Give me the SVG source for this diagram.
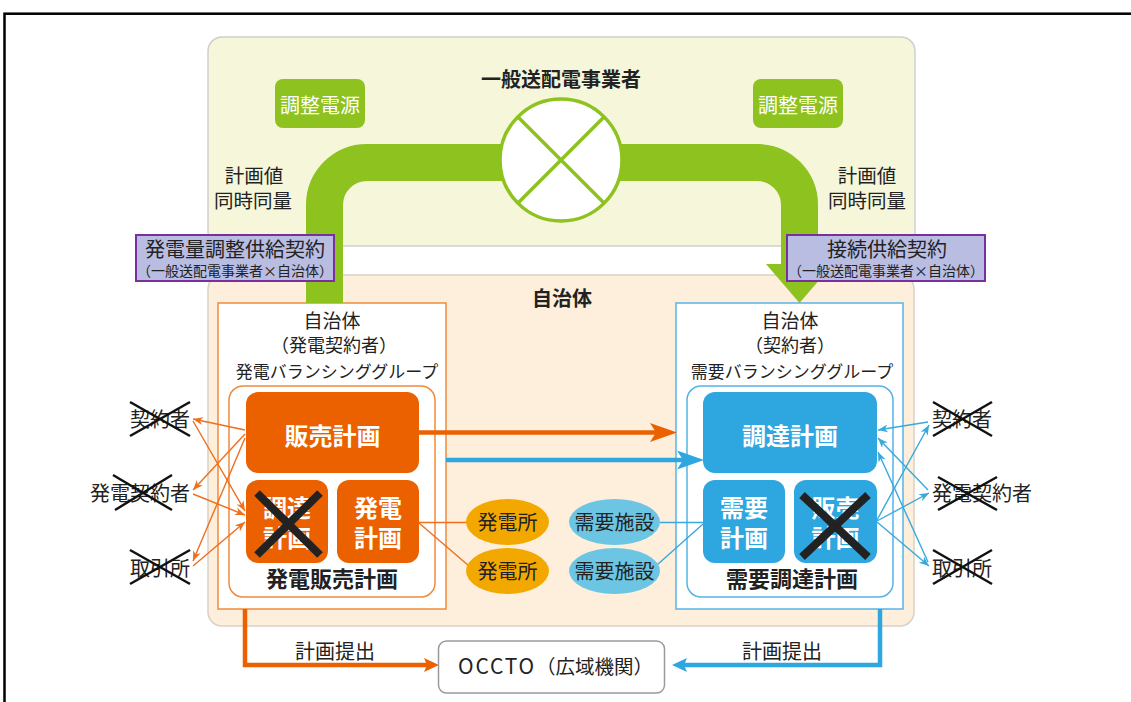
<svg xmlns="http://www.w3.org/2000/svg" width="1131" height="702" viewBox="0 0 1131 702">
<style>
text{font-family:"Noto Sans CJK JP","Noto Sans",sans-serif;fill:#222}
.c{text-anchor:middle}
.b{font-weight:bold}
.w{fill:#fff}
.thinO{stroke:#ee6f1c;stroke-width:1.4;fill:none;marker-end:url(#ao)}
.thinB{stroke:#38a9dd;stroke-width:1.4;fill:none;marker-end:url(#ab)}
.xs{stroke:#111;stroke-width:2.5}
.xb{stroke:#222;stroke-width:8}
</style>
<defs>
<marker id="ao" markerWidth="10" markerHeight="8" refX="10" refY="4" orient="auto" markerUnits="userSpaceOnUse"><path d="M0,0 L10,4 L0,8 L3,4 z" fill="#ee6f1c"/></marker>
<marker id="ab" markerWidth="10" markerHeight="8" refX="10" refY="4" orient="auto" markerUnits="userSpaceOnUse"><path d="M0,0 L10,4 L0,8 L3,4 z" fill="#38a9dd"/></marker>
</defs>
<rect x="4.5" y="13.7" width="1140" height="700" fill="none" stroke="#000" stroke-width="2.5"/>
<g id="tso-area">
<rect x="208" y="37" width="707" height="209" rx="14" fill="#f5f6da" stroke="#cfcfcf" stroke-width="1.5"/>
<text class="c b" x="561" y="87" font-size="20">一般送配電事業者</text>
</g>
<g id="muni-area">
<rect x="208" y="275" width="706" height="351" rx="14" fill="#fdefdb" stroke="#d8d2c6" stroke-width="1.5"/>
<text class="c b" x="562" y="306" font-size="20">自治体</text>
</g>
<g id="adj-left"><rect x="275" y="79" width="90" height="49" rx="8" fill="#8dc21f"/><text class="c w" x="320" y="113" font-size="20">調整電源</text></g>
<g id="adj-right"><rect x="753" y="79" width="90" height="49" rx="8" fill="#8dc21f"/><text class="c w" x="798" y="113" font-size="20">調整電源</text></g>
<g id="labels-top">
<text class="c" x="254" y="183" font-size="19.5">計画値</text>
<text class="c" x="253" y="208" font-size="19.5">同時同量</text>
<text class="c" x="867" y="183" font-size="19.5">計画値</text>
<text class="c" x="867" y="208" font-size="19.5">同時同量</text>
</g>
<g id="gen-bg">
<rect x="218" y="303" width="228" height="306" fill="#fff" stroke="#f08a3c" stroke-width="1.5"/>
<text class="c" x="332" y="328" font-size="19">自治体</text>
<text class="c" x="334" y="352" font-size="18">（発電契約者）</text>
<text class="c" x="337" y="378" font-size="17">発電バランシンググループ</text>
<rect x="229" y="386" width="206" height="211" rx="14" fill="#fff" stroke="#f08a3c" stroke-width="1.5"/>
<text class="c b" x="332" y="587" font-size="22">発電販売計画</text>
</g>
<g id="dem-bg">
<rect x="676" y="303" width="227" height="306" fill="#fff" stroke="#55b4e6" stroke-width="1.5"/>
<text class="c" x="790" y="328" font-size="19">自治体</text>
<text class="c" x="790" y="352" font-size="18">（契約者）</text>
<text class="c" x="792" y="378" font-size="17">需要バランシンググループ</text>
<rect x="687" y="386" width="206" height="211" rx="14" fill="#fff" stroke="#55b4e6" stroke-width="1.5"/>
<text class="c b" x="792" y="587" font-size="22">需要調達計画</text>
</g>
<g id="connectors">
<path d="M324.5,303 V205 A42.5,42.5 0 0 1 367,162.5 H757 A42.5,42.5 0 0 1 799.5,205 V266" fill="none" stroke="#8dc21f" stroke-width="37"/>
<polygon points="766,264 833,264 799.5,303" fill="#8dc21f"/>
<line x1="419" y1="432.5" x2="656" y2="432.5" stroke="#eb6100" stroke-width="4.5"/>
<polygon points="650,423 677,432.5 650,442 656,432.5" fill="#eb6100"/>
<line x1="446" y1="460" x2="684" y2="460" stroke="#2ea7e0" stroke-width="4.5"/>
<polygon points="677,450.5 704,460 677,469.5 683,460" fill="#2ea7e0"/>
<path d="M245,609 V665 H428" fill="none" stroke="#eb6100" stroke-width="4.5"/>
<polygon points="424,658 439,665 424,672 427,665" fill="#eb6100"/>
<path d="M880,609 V665 H683" fill="none" stroke="#2ea7e0" stroke-width="4.5"/>
<polygon points="687,658 672,665 687,672 684,665" fill="#2ea7e0"/>
<line x1="419" y1="522.5" x2="467" y2="522.5" stroke="#ee6f1c" stroke-width="1.4"/>
<line x1="419" y1="523" x2="469" y2="566" stroke="#ee6f1c" stroke-width="1.4"/>
<line x1="660" y1="522.5" x2="703" y2="522.5" stroke="#38a9dd" stroke-width="1.4"/>
<line x1="657" y1="565" x2="703" y2="524" stroke="#38a9dd" stroke-width="1.4"/>
<line class="thinO" x1="245" y1="430" x2="193" y2="419"/>
<line class="thinO" x1="245" y1="434" x2="193" y2="490"/>
<line class="thinO" x1="245" y1="438" x2="193" y2="561"/>
<line class="thinO" x1="193" y1="421" x2="245" y2="511"/>
<line class="thinO" x1="193" y1="494" x2="245" y2="515"/>
<line class="thinO" x1="193" y1="566" x2="245" y2="522"/>
<line class="thinB" x1="928" y1="422" x2="878" y2="430"/>
<line class="thinB" x1="928" y1="490" x2="878" y2="438"/>
<line class="thinB" x1="928" y1="562" x2="878" y2="452"/>
<line class="thinB" x1="877" y1="520" x2="929" y2="425"/>
<line class="thinB" x1="877" y1="521" x2="929" y2="493"/>
<line class="thinB" x1="877" y1="522" x2="929" y2="566"/>
</g>
<g id="tso-node">
<circle cx="561" cy="160" r="61" fill="#fff" stroke="#8dc21f" stroke-width="3.5"/>
<line x1="518" y1="117" x2="604" y2="203" stroke="#8dc21f" stroke-width="3.5"/>
<line x1="604" y1="117" x2="518" y2="203" stroke="#8dc21f" stroke-width="3.5"/>
</g>
<g id="contract-left">
<rect x="136" y="235" width="198" height="46" fill="#b9bde1" stroke="#7b2f9e" stroke-width="2"/>
<text class="c" x="235" y="257" font-size="20">発電量調整供給契約</text>
<text class="c" x="235" y="276" font-size="14">（一般送配電事業者×自治体）</text>
</g>
<g id="contract-right">
<rect x="787" y="235" width="198" height="46" fill="#b9bde1" stroke="#7b2f9e" stroke-width="2"/>
<text class="c" x="887" y="257" font-size="20">接続供給契約</text>
<text class="c" x="886" y="276" font-size="14">（一般送配電事業者×自治体）</text>
</g>
<g id="gen-sales"><rect x="246" y="392" width="173" height="81" rx="12" fill="#eb6100"/><text class="c b w" x="332.5" y="445" font-size="24">販売計画</text></g>
<g id="gen-proc"><rect x="246" y="480" width="82" height="83" rx="12" fill="#eb6100"/><text class="c b w" x="287" y="517" font-size="24">調達</text><text class="c b w" x="287" y="547" font-size="24">計画</text>
<line class="xb" x1="257" y1="493" x2="320" y2="555"/><line class="xb" x1="320" y1="493" x2="257" y2="555"/></g>
<g id="gen-plan"><rect x="337" y="480" width="82" height="83" rx="12" fill="#eb6100"/><text class="c b w" x="378" y="517" font-size="24">発電</text><text class="c b w" x="378" y="547" font-size="24">計画</text></g>
<g id="dem-proc"><rect x="703" y="392" width="174" height="81" rx="12" fill="#2ea7e0"/><text class="c b w" x="790" y="445" font-size="24">調達計画</text></g>
<g id="dem-plan"><rect x="703" y="480" width="82" height="83" rx="12" fill="#2ea7e0"/><text class="c b w" x="744" y="517" font-size="24">需要</text><text class="c b w" x="744" y="547" font-size="24">計画</text></g>
<g id="dem-sales"><rect x="794" y="480" width="83" height="83" rx="12" fill="#2ea7e0"/><text class="c b w" x="835.5" y="517" font-size="24">販売</text><text class="c b w" x="835.5" y="547" font-size="24">計画</text>
<line class="xb" x1="802" y1="495" x2="868" y2="557"/><line class="xb" x1="868" y1="495" x2="802" y2="557"/></g>
<g id="plant1"><ellipse cx="507.5" cy="522" rx="41.5" ry="23" fill="#f3a800"/><text class="c" x="507.5" y="530" font-size="20">発電所</text></g>
<g id="plant2"><ellipse cx="507.5" cy="571" rx="41.5" ry="23" fill="#f3a800"/><text class="c" x="507.5" y="579" font-size="20">発電所</text></g>
<g id="fac1"><ellipse cx="614.5" cy="522" rx="45.5" ry="23" fill="#6cc5e3"/><text class="c" x="614.5" y="530" font-size="20">需要施設</text></g>
<g id="fac2"><ellipse cx="614.5" cy="571" rx="45.5" ry="23" fill="#6cc5e3"/><text class="c" x="614.5" y="579" font-size="20">需要施設</text></g>
<g id="left-contractor"><text x="190" y="427" font-size="20" text-anchor="end">契約者</text><line class="xs" x1="130" y1="402" x2="190" y2="436"/><line class="xs" x1="130" y1="436" x2="190" y2="402"/></g>
<g id="left-gencontractor"><text x="190" y="501" font-size="20" text-anchor="end">発電契約者</text><line class="xs" x1="113" y1="475" x2="172" y2="510"/><line class="xs" x1="115" y1="510" x2="172" y2="475"/></g>
<g id="left-exchange"><text x="190" y="576" font-size="20" text-anchor="end">取引所</text><line class="xs" x1="130" y1="550" x2="190" y2="584"/><line class="xs" x1="130" y1="584" x2="190" y2="550"/></g>
<g id="right-contractor"><text x="932" y="427" font-size="20">契約者</text><line class="xs" x1="933" y1="402" x2="992" y2="436"/><line class="xs" x1="933" y1="436" x2="992" y2="402"/></g>
<g id="right-gencontractor"><text x="932" y="501" font-size="20">発電契約者</text><line class="xs" x1="938" y1="477" x2="997" y2="510"/><line class="xs" x1="938" y1="510" x2="997" y2="477"/></g>
<g id="right-exchange"><text x="932" y="576" font-size="20">取引所</text><line class="xs" x1="933" y1="550" x2="992" y2="584"/><line class="xs" x1="933" y1="584" x2="992" y2="550"/></g>
<g id="occto">
<rect x="438.5" y="641" width="226" height="52" rx="8" fill="#fff" stroke="#9a9a9a" stroke-width="1.5"/>
<text x="458" y="674" font-size="19.5"><tspan font-size="21" letter-spacing="1.8">OCCTO</tspan>（広域機関）</text>
</g>
<g id="submit-labels">
<text class="c" x="335" y="659" font-size="20">計画提出</text>
<text class="c" x="782" y="659" font-size="20">計画提出</text>
</g>
</svg>
